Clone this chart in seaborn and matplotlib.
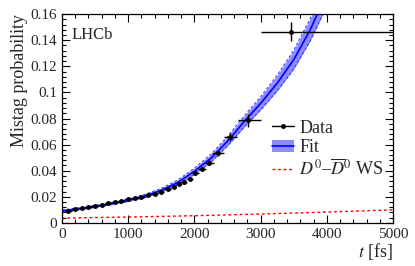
import numpy as np
import pandas as pd
import matplotlib
matplotlib.use("Agg")
import matplotlib.pyplot as plt
import seaborn as sns
from matplotlib.lines import Line2D
from matplotlib.patches import Patch
from matplotlib.ticker import MultipleLocator

# data points (decay time in fs, mistag probability)
t_data = [100, 200, 300, 400, 500, 600, 700, 800, 900, 1000, 1100, 1200, 1300,
          1400, 1500, 1600, 1690, 1770, 1840, 1930, 2010, 2115, 2220, 2360,
          2540, 2810, 3460]
p_data = [0.0095, 0.0104, 0.0112, 0.0122, 0.0133, 0.0139, 0.0150, 0.0160,
          0.0170, 0.0180, 0.0193, 0.0200, 0.0212, 0.0224, 0.0238, 0.0262,
          0.0278, 0.0296, 0.0312, 0.0340, 0.0382, 0.0415, 0.0462, 0.0532,
          0.0660, 0.0785, 0.1465]
# bin edges (lower / upper distance from the point)
t_err_lo = [50, 50, 50, 50, 50, 50, 50, 50, 50, 50, 50, 50, 50, 50, 50, 50,
            45, 40, 40, 45, 50, 55, 60, 90, 90, 150, 460]
t_err_hi = [50, 50, 50, 50, 50, 50, 50, 50, 50, 50, 50, 50, 50, 50, 50, 45,
            40, 40, 45, 50, 55, 60, 80, 90, 105, 190, 1540]
p_err = [0.0006, 0.0006, 0.0006, 0.0006, 0.0006, 0.0006, 0.0007, 0.0007,
         0.0007, 0.0007, 0.0008, 0.0008, 0.0008, 0.0009, 0.0009, 0.0010,
         0.0011, 0.0012, 0.0012, 0.0013, 0.0014, 0.0016, 0.0018, 0.0022,
         0.0030, 0.0050, 0.0072]

# fit curve and its uncertainty band
t_fit = [0, 250, 500, 750, 1000, 1250, 1500, 1750, 2000, 2250, 2500, 2750,
         3000, 3250, 3500, 3750, 4000]
p_fit = [0.0092, 0.0108, 0.0127, 0.0149, 0.0174, 0.0206, 0.0250, 0.0310,
         0.0395, 0.0495, 0.0625, 0.0775, 0.0915, 0.1070, 0.1250, 0.1480,
         0.1760]
p_fit_err = [0.0007, 0.0008, 0.0008, 0.0009, 0.0010, 0.0012, 0.0015, 0.0019,
             0.0024, 0.0030, 0.0036, 0.0043, 0.0050, 0.0060, 0.0072, 0.0085,
             0.0100]

# D0-D0bar wrong-sign contribution
t_ws = [0, 1000, 2000, 3000, 4000, 5000]
p_ws = [0.0037, 0.0045, 0.0055, 0.0068, 0.0083, 0.0100]

sns.set_theme(style="ticks")
plt.rcParams["font.family"] = ["Liberation Serif", "DejaVu Serif"]
plt.rcParams["mathtext.fontset"] = "stix"

fig = plt.figure(figsize=(4.15, 2.66), dpi=100)
ax = fig.add_axes([0.149, 0.162, 0.798, 0.785])

fit = pd.DataFrame({"t": t_fit, "p": p_fit, "e": p_fit_err})
lo = fit["p"] - fit["e"]
hi = fit["p"] + fit["e"]
ax.fill_between(fit["t"], lo, hi, color="#8c8cff", lw=0, zorder=1)
ax.plot(fit["t"], lo, color="#3030ff", lw=0.7, ls=(0, (3, 2)), zorder=2)
ax.plot(fit["t"], hi, color="#3030ff", lw=0.7, ls=(0, (3, 2)), zorder=2)
sns.lineplot(data=fit, x="t", y="p", color="#0000ff", lw=1.2, ax=ax, zorder=3)

ws = pd.DataFrame({"t": t_ws, "p": p_ws})
sns.lineplot(data=ws, x="t", y="p", color="#ff0000", lw=1.0,
             linestyle=(0, (2, 2)), ax=ax, zorder=2)

ax.errorbar(t_data, p_data, xerr=[t_err_lo, t_err_hi], yerr=p_err, fmt="o",
            color="black", ms=2.5, lw=1.0, capsize=0, zorder=4)

ax.set_xlim(0, 5000)
ax.set_ylim(0, 0.16)
ax.xaxis.set_major_locator(MultipleLocator(1000))
ax.xaxis.set_minor_locator(MultipleLocator(200))
ax.yaxis.set_minor_locator(MultipleLocator(0.004))
ax.set_yticks([0, 0.02, 0.04, 0.06, 0.08, 0.1, 0.12, 0.14, 0.16])
ax.set_yticklabels(["0", "0.02", "0.04", "0.06", "0.08", "0.1", "0.12",
                    "0.14", "0.16"])
ax.tick_params(which="both", direction="in", top=True, right=True,
               labelsize=11, width=0.8, color="black")
ax.tick_params(which="major", length=6)
ax.tick_params(which="minor", length=3)
for s in ax.spines.values():
    s.set_color("black")
    s.set_linewidth(0.9)

ax.set_xlabel("$t$ [fs]", fontsize=13, loc="right", labelpad=0)
ax.set_ylabel("Mistag probability", fontsize=13, loc="top", labelpad=2)
ax.text(0.03, 0.9, "LHCb", transform=ax.transAxes, fontsize=12,
        ha="left", va="center")

handles = [
    Line2D([], [], color="black", marker="o", ms=2.5, lw=1.0),
    (Patch(facecolor="#8c8cff", edgecolor="none"),
     Line2D([], [], color="#0000ff", lw=1.2)),
    Line2D([], [], color="#ff0000", lw=1.0, linestyle=(0, (2, 2))),
]
labels = ["Data", "Fit", r"$D^0$–$\overline{D}^0$ WS"]
ax.legend(handles, labels, loc="upper left", bbox_to_anchor=(0.635, 0.495),
          frameon=False, fontsize=13, handlelength=1.2, handletextpad=0.3,
          labelspacing=0.15, borderaxespad=0, borderpad=0)

fig.savefig("out.png", dpi=100)
